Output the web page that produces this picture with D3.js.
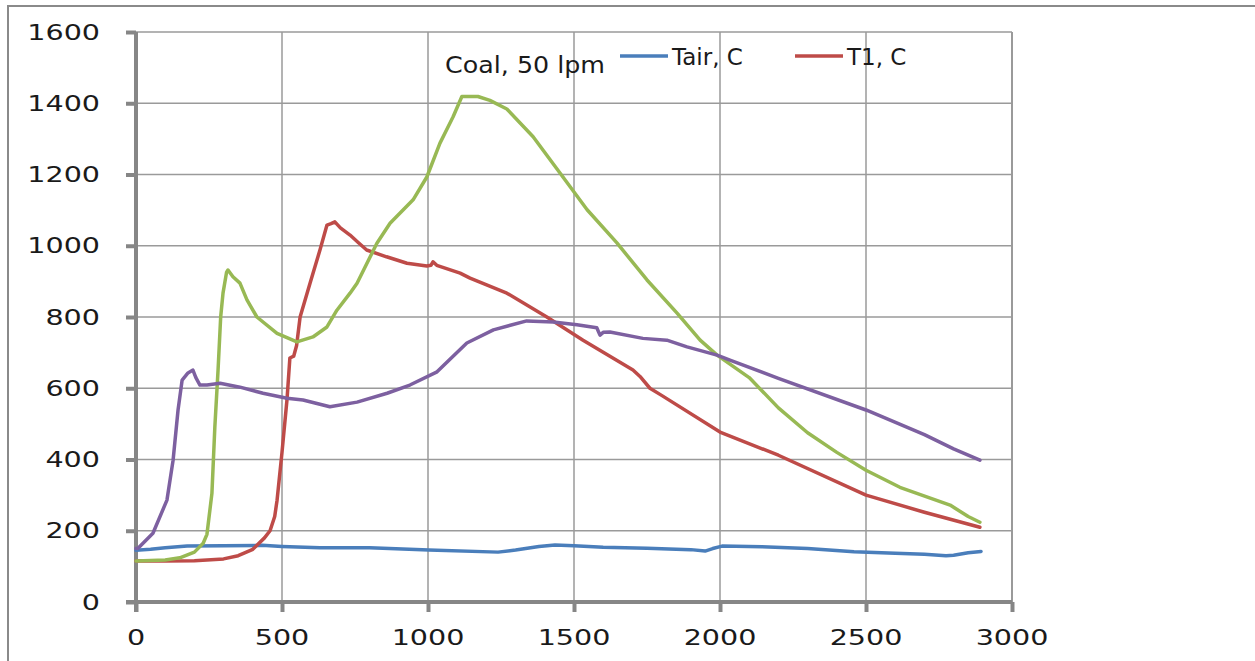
<!DOCTYPE html>
<html><head><meta charset="utf-8">
<script src="https://cdn.jsdelivr.net/npm/d3@7"></script>
<style>html,body{margin:0;padding:0;background:#fff;}svg{display:block;}</style>
</head><body>
<svg id="c" width="1255" height="661"></svg>
<script>
const xTicks = [0, 500, 1000, 1500, 2000, 2500, 3000];
const yTicks = [0, 200, 400, 600, 800, 1000, 1200, 1400, 1600];
const chartNote = "Coal, 50 lpm";
const seriesNames = ["Tair, C", "T1, C", "T2, C", "T3, C"];
const seriesColors = ["#4a7ebb", "#be4b48", "#98b954", "#7d60a0"];

const tair = [[0,145],[50,148],[100,152],[175,157],[300,158],[432,159],[500,156],[630,152],[800,152],[1003,146],[1240,140],[1300,146],[1380,156],[1435,160],[1500,158],[1600,154],[1750,151],[1900,147],[1949,143],[1975,150],[2007,157],[2144,155],[2300,150],[2459,141],[2600,137],[2700,134],[2774,130],[2800,131],[2850,138],[2894,142]];
const t1 = [[0,115],[100,115],[200,116],[300,121],[350,130],[400,148],[440,180],[459,200],[475,240],[483,285],[500,420],[517,567],[527,685],[540,690],[550,720],[562,800],[596,895],[630,988],[654,1058],[668,1062],[681,1067],[700,1050],[733,1030],[760,1010],[790,988],[858,969],[928,951],[996,943],[1010,945],[1017,955],[1030,945],[1110,923],[1144,909],[1270,867],[1407,800],[1531,735],[1702,651],[1726,633],[1760,600],[1800,580],[2000,477],[2200,412],[2500,300],[2700,252],[2890,210]];
const t2 = [[0,115],[100,118],[150,124],[200,140],[230,165],[243,190],[260,305],[270,491],[281,651],[290,800],[298,867],[310,925],[315,932],[332,913],[356,895],[380,848],[414,800],[483,754],[551,730],[606,744],[654,772],[688,819],[733,867],[757,895],[825,1007],[870,1063],[949,1129],[996,1193],[1041,1288],[1086,1362],[1116,1419],[1171,1419],[1212,1408],[1270,1384],[1360,1306],[1452,1204],[1545,1101],[1647,1008],[1750,904],[1853,811],[1932,735],[1990,693],[2100,630],[2200,545],[2300,475],[2400,420],[2500,370],[2616,322],[2788,272],[2850,240],[2890,224]];
const t3 = [[0,150],[7,151],[58,193],[106,286],[127,398],[144,539],[158,623],[178,643],[195,651],[205,630],[219,609],[243,609],[288,614],[356,603],[435,586],[517,572],[572,567],[664,548],[757,561],[860,586],[938,609],[1031,646],[1133,727],[1224,764],[1338,789],[1429,786],[1510,778],[1578,770],[1589,749],[1600,757],[1623,758],[1736,740],[1818,735],[1887,716],[1990,693],[2034,679],[2200,628],[2500,539],[2700,470],[2800,430],[2890,398]];
const allSeries = [tair, t1, t2, t3];

const svg = d3.select("#c");
const L = 136, R = 1012, T = 32, B = 602;
const x = d3.scaleLinear().domain([0, 3000]).range([L, R]);
const y = d3.scaleLinear().domain([0, 1600]).range([B, T]);

// outer frame
svg.append("line").attr("x1", 8).attr("x2", 8).attr("y1", 5).attr("y2", 661).attr("stroke", "#8a8a8a").attr("stroke-width", 2);
svg.append("line").attr("x1", 7).attr("x2", 1255).attr("y1", 6).attr("y2", 6).attr("stroke", "#8a8a8a").attr("stroke-width", 2);

// gridlines
const grid = svg.append("g");
grid.selectAll("line.h").data(yTicks.filter(d => d > 0)).join("line")
  .attr("x1", L).attr("x2", R).attr("y1", d => y(d)).attr("y2", d => y(d))
  .attr("stroke", "#9a9a9a").attr("stroke-width", 1.5);
grid.selectAll("line.v").data(xTicks.filter(d => d > 0)).join("line")
  .attr("y1", T).attr("y2", B).attr("x1", d => x(d)).attr("x2", d => x(d))
  .attr("stroke", "#9a9a9a").attr("stroke-width", d => d === 3000 ? 2 : 1.5);

// axes
const axColor = "#868686";
const yAxis = svg.append("g").attr("transform", `translate(${L},0)`)
  .call(d3.axisLeft(y).tickValues(yTicks).tickSize(10).tickFormat(""));
const xAxis = svg.append("g").attr("transform", `translate(0,${B})`)
  .call(d3.axisBottom(x).tickValues(xTicks).tickSize(10).tickFormat(""));
[yAxis, xAxis].forEach(g => {
  g.select(".domain").attr("stroke", axColor).attr("stroke-width", 4);
  g.selectAll(".tick line").attr("stroke", axColor).attr("stroke-width", 4);
});
yAxis.select(".domain").attr("d", `M0,${T}V${B + 10}`);
xAxis.select(".domain").attr("d", `M${L - 10},0H${R}`);

// tick labels
const font = "DejaVu Sans";
svg.append("g").selectAll("text").data(yTicks).join("text")
  .attr("transform", d => `translate(100,${y(d) + 7.5}) scale(1.33,1)`)
  .attr("text-anchor", "end").attr("font-family", font).attr("font-size", 21.5)
  .attr("fill", "#1a1a1a").text(d => d);
svg.append("g").selectAll("text").data(xTicks).join("text")
  .attr("transform", d => `translate(${x(d)},645) scale(1.33,1)`)
  .attr("text-anchor", "middle").attr("font-family", font).attr("font-size", 21.5)
  .attr("fill", "#1a1a1a").text(d => d);

// series
const line = d3.line().x(d => x(d[0])).y(d => y(d[1]));
svg.append("g").selectAll("path").data(allSeries).join("path")
  .attr("d", line).attr("fill", "none")
  .attr("stroke", (d, i) => seriesColors[i]).attr("stroke-width", 3.5)
  .attr("stroke-linejoin", "round").attr("stroke-linecap", "round");

// note + legend
svg.append("text").attr("x", 445).attr("y", 73).attr("font-family", font).attr("font-size", 23)
  .attr("textLength", 160).attr("lengthAdjust", "spacingAndGlyphs").attr("fill", "#1a1a1a").text(chartNote);
const legX = [620, 795];
[0, 1].forEach(i => {
  svg.append("line").attr("x1", legX[i]).attr("x2", legX[i] + 48).attr("y1", 56).attr("y2", 56)
    .attr("stroke", seriesColors[i]).attr("stroke-width", 3.5);
  svg.append("text").attr("x", legX[i] + 52).attr("y", 65).attr("font-family", font).attr("font-size", 23)
    .attr("fill", "#1a1a1a").text(seriesNames[i]);
});
</script>
</body></html>
